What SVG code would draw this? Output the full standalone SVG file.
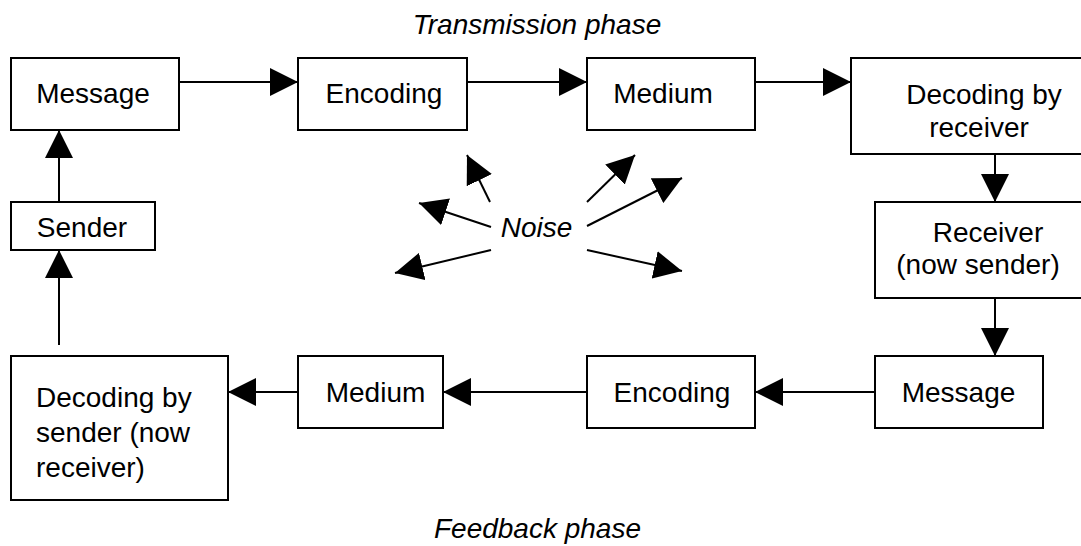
<svg xmlns="http://www.w3.org/2000/svg" width="1081" height="546" viewBox="0 0 1081 546">
<style>
.box{fill:#fff;stroke:#000;stroke-width:2}
.t{font-family:"Liberation Sans",Arial,sans-serif;font-size:28px;fill:#000}
.c{text-anchor:middle}
.i{font-style:italic}
.ln{stroke:#000;stroke-width:2;fill:none}
</style>
<defs>
<marker id="ah" markerUnits="userSpaceOnUse" markerWidth="28" markerHeight="28" viewBox="0 0 27 27" refX="27" refY="13.5" orient="auto">
<path d="M0,0 L27,13.5 L0,27 z" fill="#000"/>
</marker>
</defs>
<rect width="1081" height="546" fill="#fff"/>
<text class="t c i" x="537" y="34">Transmission phase</text>
<text class="t c i" x="537.5" y="538">Feedback phase</text>
<g id="connectors">
<line class="ln" x1="179" y1="82" x2="298" y2="82" marker-end="url(#ah)"/>
<line class="ln" x1="467" y1="82" x2="587" y2="82" marker-end="url(#ah)"/>
<line class="ln" x1="755" y1="82" x2="851" y2="82" marker-end="url(#ah)"/>
<line class="ln" x1="995" y1="154" x2="995" y2="202" marker-end="url(#ah)"/>
<line class="ln" x1="995" y1="298" x2="995" y2="356" marker-end="url(#ah)"/>
<line class="ln" x1="875" y1="392" x2="755" y2="392" marker-end="url(#ah)"/>
<line class="ln" x1="587" y1="392" x2="443" y2="392" marker-end="url(#ah)"/>
<line class="ln" x1="298" y1="392" x2="228" y2="392" marker-end="url(#ah)"/>
<line class="ln" x1="59" y1="345" x2="59" y2="250" marker-end="url(#ah)"/>
<line class="ln" x1="59" y1="202" x2="59" y2="130" marker-end="url(#ah)"/>
<line class="ln" x1="490" y1="202" x2="467" y2="155" marker-end="url(#ah)"/>
<line class="ln" x1="491" y1="227" x2="419" y2="203" marker-end="url(#ah)"/>
<line class="ln" x1="491" y1="250" x2="395" y2="273" marker-end="url(#ah)"/>
<line class="ln" x1="587" y1="202" x2="635" y2="155" marker-end="url(#ah)"/>
<line class="ln" x1="587" y1="226" x2="682" y2="178" marker-end="url(#ah)"/>
<line class="ln" x1="587" y1="250" x2="682" y2="271" marker-end="url(#ah)"/>
</g>
<g id="noise"><text class="t c i" x="536.5" y="237">Noise</text></g>
<g id="message1"><rect class="box" x="11" y="58" width="168" height="72"/><text class="t c" x="93" y="103">Message</text></g>
<g id="encoding1"><rect class="box" x="298" y="58" width="169" height="72"/><text class="t c" x="384" y="103">Encoding</text></g>
<g id="medium1"><rect class="box" x="587" y="58" width="168" height="72"/><text class="t c" x="663" y="103">Medium</text></g>
<g id="decoding-receiver"><rect class="box" x="851" y="58" width="260" height="96"/><text class="t c" x="984" y="104">Decoding by</text><text class="t c" x="979" y="136.5">receiver</text></g>
<g id="receiver"><rect class="box" x="875" y="202" width="240" height="96"/><text class="t c" x="988" y="242">Receiver</text><text class="t c" x="978" y="274">(now sender)</text></g>
<g id="message2"><rect class="box" x="875" y="356" width="168" height="72"/><text class="t c" x="958.5" y="402">Message</text></g>
<g id="encoding2"><rect class="box" x="587" y="356" width="168" height="72"/><text class="t c" x="672" y="402">Encoding</text></g>
<g id="medium2"><rect class="box" x="298" y="356" width="145" height="72"/><text class="t c" x="375.5" y="402">Medium</text></g>
<g id="decoding-sender"><rect class="box" x="11" y="356" width="217" height="144"/><text class="t" x="36" y="407">Decoding by</text><text class="t" x="36" y="442">sender (now</text><text class="t" x="36" y="477">receiver)</text></g>
<g id="sender"><rect class="box" x="11" y="202" width="144" height="48"/><text class="t c" x="82" y="237">Sender</text></g>
</svg>
